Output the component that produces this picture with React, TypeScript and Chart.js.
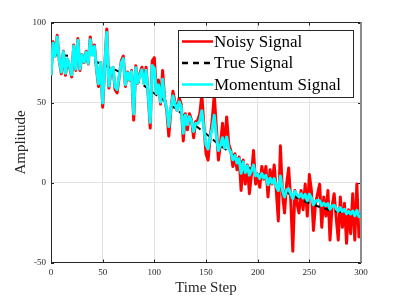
import React, { useEffect, useRef } from "react";
import { Chart, registerables } from "chart.js";

Chart.register(...registerables);

// ---- data ----
const NOISY_STEP = 2; // time step spacing of noisy / momentum samples
const noisySignal = [
  67, 88, 79, 92, 76, 68, 82, 67, 77, 72,
  66, 86, 70, 90, 70, 80, 75, 82, 74, 91,
  80, 86, 71, 60, 75, 47, 73, 96, 59, 70,
  72, 58, 56, 66, 76, 79, 60, 69, 64, 70,
  39, 73, 62, 68, 72, 62, 72, 55, 34, 76,
  78, 56, 64, 49, 70, 52, 45, 29, 45, 57,
  50, 45, 53, 49, 26, 43, 33, 43, 39, 28,
  38, 39, 43, 55, 35, 18, 14, 28, 39, 55,
  35, 14, 24, 37, 22, 41, 24, 20, 10, 18,
  8, 16, -5, 14, -1, 11, -7, 5, 20, -1,
  4, -3, 10, 2, 10, -9, 8, -1, 11, -5,
  -24, 23, -7, -19, -1, 9, -11, -43, -5, -13,
  -19, -5, -17, -1, -21, 5, -5, -30, -13, -7,
  -1, -28, -9, -21, -5, -36, -15, -7, -22, -36,
  -9, -28, -13, -38, -17, -32, -7, -36, -1, -34,
  -32,
];
const momentumSignal = [
  67, 87, 79, 91, 76.5, 69, 81.7, 68.3, 77.2, 72.7,
  67.3, 85.3, 70.9, 88.9, 71, 79.8, 75.3, 81.5, 74.4, 89.2,
  79.6, 85, 71.5, 61.7, 75, 49.7, 73, 93.7, 60.3, 70.2,
  71.9, 59.9, 58.1, 66.5, 74.9, 77.4, 61.1, 68.6, 64.3, 69.3,
  42.8, 71.7, 62.2, 67.1, 70.4, 61.8, 70.1, 55.5, 37.5, 73.1,
  71.3, 55.6, 61, 50.2, 64.6, 51.7, 46.5, 35, 46, 54.1,
  49, 45.1, 50.4, 47.3, 30.8, 42.1, 36.2, 41.1, 38.4, 31.9,
  36.9, 37, 38.7, 44.9, 33.4, 23.6, 20.9, 28.1, 33.7, 42,
  29, 20, 23.4, 28, 21.5, 28.5, 21.1, 18.9, 14.2, 16.8,
  12.2, 14.8, 5.8, 12.8, 6.2, 10.3, 4.6, 7.3, 10.9, 4.3,
  5.1, 2.5, 5.6, 2.8, 4.5, -1.4, 2.7, -0.4, 2.4, -2.6,
  -5, 4, -5, -9, -4.6, -4, -7, -10, -5.6, -7.5,
  -9.1, -7.1, -9.7, -7.4, -11.5, -7.3, -9.7, -13.9, -11.7, -11.2,
  -11.4, -14.4, -12.9, -14.5, -13.2, -16.7, -14.8, -14.2, -16.4, -18,
  -15.6, -18.1, -16.8, -19.5, -18.1, -19.7, -17.8, -20.8, -17.4, -21.3,
  -21.2,
];
const TRUE_STEP = 10;
const trueSignal = [
  80, 79.5, 79, 77.5, 76, 74, 71, 68, 64.5, 60.5,
  55.6, 51, 46.5, 41, 35.5, 30.5, 25, 20.2, 15, 10,
  5.5, 1.5, -2.5, -6.9, -10, -13, -15.3, -17.3, -18.5, -19.5,
  -20,
];
const xTicks = [0, 50, 100, 150, 200, 250, 300];
const yTicks = [-50, 0, 50, 100];
const seriesLabels = ["Noisy Signal", "True Signal", "Momentum Signal"];
const seriesColors = ["#ff0000", "#000000", "#00ffff"];
const xTitle = "Time Step";
const yTitle = "Amplitude";

const SERIF = '"Liberation Serif", "Times New Roman", Times, serif';

const toPoints = (arr: number[], step: number) =>
  arr.map((y, i) => ({ x: i * step, y }));

const framePlugin = {
  id: "frameAndLegend",
  afterDatasetsDraw(chart: any) {
    const { ctx, chartArea, scales } = chart;
    const { left, right, top, bottom } = chartArea;
    ctx.save();
    // inward ticks
    ctx.strokeStyle = "#262626";
    ctx.lineWidth = 1;
    ctx.beginPath();
    xTicks.forEach((v) => {
      const px = Math.round(scales.x.getPixelForValue(v)) + 0.5;
      ctx.moveTo(px, bottom);
      ctx.lineTo(px, bottom - 3);
      ctx.moveTo(px, top);
      ctx.lineTo(px, top + 3);
    });
    yTicks.forEach((v) => {
      const py = Math.round(scales.y.getPixelForValue(v)) + 0.5;
      ctx.moveTo(left, py);
      ctx.lineTo(left + 3, py);
      ctx.moveTo(right, py);
      ctx.lineTo(right - 3, py);
    });
    ctx.stroke();
    // box: top line and right line
    ctx.beginPath();
    ctx.moveTo(left, top);
    ctx.lineTo(right, top);
    ctx.stroke();
    ctx.strokeStyle = "#8c8c8c";
    ctx.lineWidth = 2;
    ctx.beginPath();
    ctx.moveTo(right, top);
    ctx.lineTo(right, bottom);
    ctx.stroke();

    // legend box
    const bx = right - 183;
    const by = top + 7.5;
    const bw = 175;
    const bh = 67;
    ctx.fillStyle = "#ffffff";
    ctx.fillRect(bx, by, bw, bh);
    ctx.strokeStyle = "#262626";
    ctx.lineWidth = 1;
    ctx.strokeRect(Math.round(bx) + 0.5, Math.round(by) + 0.5, bw, bh);
    ctx.font = `17px ${SERIF}`;
    ctx.textBaseline = "middle";
    ctx.textAlign = "left";
    const rows = [by + 12.5, by + 34, by + 55.5];
    chart.data.datasets.forEach((ds: any, i: number) => {
      const y = rows[i];
      ctx.strokeStyle = ds.borderColor;
      ctx.lineWidth = 2.5;
      ctx.setLineDash(ds.borderDash || []);
      ctx.beginPath();
      ctx.moveTo(bx + 4, y - 1);
      ctx.lineTo(bx + 35, y - 1);
      ctx.stroke();
      ctx.setLineDash([]);
      ctx.fillStyle = "#000000";
      ctx.fillText(ds.label, bx + 36, y);
    });
    ctx.restore();
  },
};

export default function App() {
  const ref = useRef<HTMLCanvasElement | null>(null);

  useEffect(() => {
    document.body.style.margin = "0";
    const canvas = ref.current;
    if (!canvas) return;
    const chart = new Chart(canvas, {
      type: "line",
      data: {
        datasets: [
          {
            label: seriesLabels[0],
            data: toPoints(noisySignal, NOISY_STEP),
            borderColor: seriesColors[0],
            borderWidth: 3,
            borderJoinStyle: "round",
            pointRadius: 0,
            tension: 0,
            order: 3,
          },
          {
            label: seriesLabels[1],
            data: toPoints(trueSignal, TRUE_STEP),
            borderColor: seriesColors[1],
            borderWidth: 2,
            borderDash: [6, 5],
            pointRadius: 0,
            tension: 0,
            order: 2,
          },
          {
            label: seriesLabels[2],
            data: toPoints(momentumSignal, NOISY_STEP),
            borderColor: seriesColors[2],
            borderWidth: 3,
            borderJoinStyle: "round",
            pointRadius: 0,
            tension: 0,
            order: 1,
          },
        ],
      },
      options: {
        responsive: false,
        animation: false,
        layout: { padding: { left: 0, right: 38, top: 22.5, bottom: 0 } },
        plugins: {
          legend: { display: false },
          tooltip: { enabled: false },
        },
        scales: {
          x: {
            type: "linear",
            min: 0,
            max: 300,
            afterBuildTicks: (s: any) => {
              s.ticks = xTicks.map((v) => ({ value: v }));
            },
            afterFit: (s: any) => {
              s.height = 36.5;
            },
            ticks: {
              font: { family: SERIF, size: 9 },
              color: "#262626",
              padding: 5,
              maxRotation: 0,
              autoSkip: false,
            },
            grid: { color: "#e3e3e3", lineWidth: 1, drawTicks: false },
            border: { display: true, color: "#262626", width: 1 },
            title: {
              display: true,
              text: xTitle,
              font: { family: SERIF, size: 15 },
              color: "#262626",
              padding: { top: 0, bottom: 1.5 },
            },
          },
          y: {
            type: "linear",
            min: -50,
            max: 100,
            afterBuildTicks: (s: any) => {
              s.ticks = yTicks.map((v) => ({ value: v }));
            },
            afterFit: (s: any) => {
              s.width = 51;
            },
            ticks: {
              font: { family: SERIF, size: 9 },
              color: "#262626",
              padding: 5,
              autoSkip: false,
            },
            grid: { color: "#e3e3e3", lineWidth: 1, drawTicks: false },
            border: { display: true, color: "#262626", width: 1 },
            title: {
              display: true,
              text: yTitle,
              font: { family: SERIF, size: 15 },
              color: "#262626",
              padding: { top: 12, bottom: 0 },
            },
          },
        },
      },
      plugins: [framePlugin],
    });
    return () => chart.destroy();
  }, []);

  return (
    <div style={{ width: 399, height: 299, background: "#fff" }}>
      <canvas ref={ref} width={399} height={299} style={{ display: "block" }} />
    </div>
  );
}
